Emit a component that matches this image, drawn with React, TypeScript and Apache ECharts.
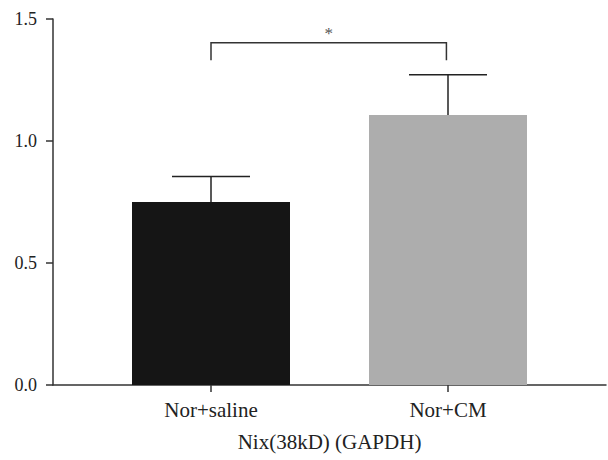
import React, { useEffect, useRef } from "react";
import * as echarts from "echarts";

const categories = ["Nor+saline", "Nor+CM"];
const positions = [2, 5];
const means = [0.75, 1.107];
const upperErrors = [0.854, 1.272];
const barColors = ["#151515", "#adadad"];
const yTicks = [0, 0.5, 1.0, 1.5];
const bracket = { from: 2, to: 4.98, top: 1.403, leg: 1.331, label: "*" };
const xAxisTitle = "Nix(38kD) (GAPDH)";

export default function App() {
  const ref = useRef<HTMLDivElement>(null);
  useEffect(() => {
    if (!ref.current) return;
    const chart = echarts.init(ref.current, null, { renderer: "svg" });
    const font = "Liberation Serif";
    chart.setOption({
      animation: false,
      textStyle: { fontFamily: font },
      grid: { left: 53, right: 2, top: 19, bottom: 75 },
      xAxis: {
        type: "value",
        min: 0,
        max: 7,
        name: xAxisTitle,
        nameLocation: "middle",
        nameGap: 46,
        nameTextStyle: { fontFamily: font, fontSize: 21, color: "#222" },
        splitLine: { show: false },
        axisLine: { show: true, lineStyle: { color: "#333", width: 1.5 } },
        axisTick: { show: true, customValues: positions, length: 7, lineStyle: { color: "#333", width: 1.5 } },
        axisLabel: {
          customValues: positions,
          margin: 14,
          fontFamily: font,
          fontSize: 21,
          color: "#222",
          formatter: (v: number) => {
            const i = positions.indexOf(v);
            return i >= 0 ? categories[i] : "";
          },
        },
      },
      yAxis: {
        type: "value",
        min: 0,
        max: 1.5,
        interval: 0.5,
        splitLine: { show: false },
        axisLine: { show: true, lineStyle: { color: "#333", width: 1.5 } },
        axisTick: { show: true, length: 7, lineStyle: { color: "#333", width: 1.5 } },
        axisLabel: {
          margin: 16,
          fontFamily: font,
          fontSize: 18,
          color: "#222",
          customValues: yTicks,
          formatter: (v: number) => v.toFixed(1),
        },
      },
      series: [
        {
          type: "bar",
          barWidth: 158,
          data: positions.map((p, i) => ({ value: [p, means[i]], itemStyle: { color: barColors[i] } })),
        },
        {
          type: "custom",
          data: positions.map((p, i) => [p, means[i], upperErrors[i]]),
          renderItem: (params: any, api: any) => {
            const x = api.value(0);
            const base = api.coord([x, api.value(1)]);
            const top = api.coord([x, api.value(2)]);
            const hw = 39;
            return {
              type: "group",
              children: [
                { type: "line", shape: { x1: base[0], y1: base[1], x2: top[0], y2: top[1] }, style: { stroke: "#222", lineWidth: 1.5 } },
                { type: "line", shape: { x1: top[0] - hw, y1: top[1], x2: top[0] + hw, y2: top[1] }, style: { stroke: "#222", lineWidth: 1.5 } },
              ],
            };
          },
          z: 3,
        },
        {
          type: "custom",
          data: [[bracket.from, bracket.to, bracket.top, bracket.leg]],
          renderItem: (params: any, api: any) => {
            const a = api.coord([api.value(0), api.value(2)]);
            const b = api.coord([api.value(1), api.value(2)]);
            const aL = api.coord([api.value(0), api.value(3)]);
            const bL = api.coord([api.value(1), api.value(3)]);
            return {
              type: "group",
              children: [
                {
                  type: "polyline",
                  shape: { points: [aL, a, b, bL] },
                  style: { stroke: "#333", lineWidth: 1.5, fill: "none" },
                },
                {
                  type: "text",
                  x: (a[0] + b[0]) / 2,
                  y: a[1] - 1,
                  style: {
                    text: bracket.label,
                    fontFamily: font,
                    fontSize: 17,
                    fill: "#555",
                    align: "center",
                    verticalAlign: "bottom",
                  },
                },
              ],
            };
          },
          z: 3,
        },
      ],
    });
    return () => chart.dispose();
  }, []);
  return <div ref={ref} style={{ width: 608, height: 460, position: "absolute", left: 0, top: 0 }} />;
}
